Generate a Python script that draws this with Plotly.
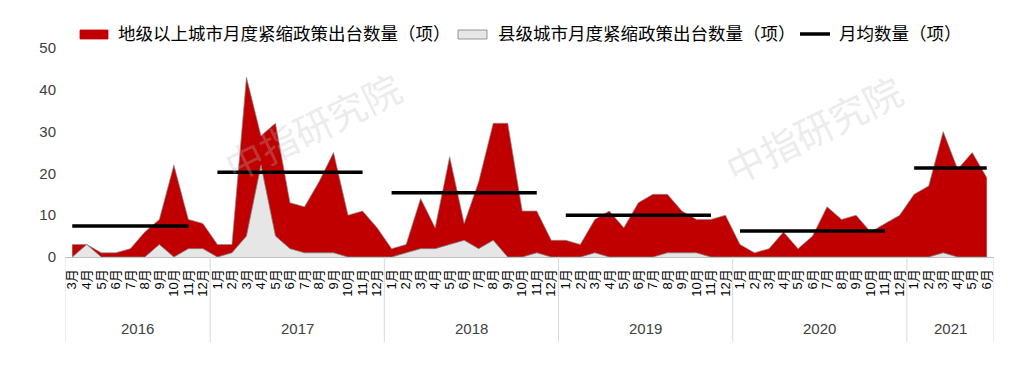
import plotly.graph_objects as go

# ---------------- data ----------------
years = ["2016", "2017", "2018", "2019", "2020", "2021"]
year_first_month = [3, 1, 1, 1, 1, 1]
year_last_month = [12, 12, 12, 12, 12, 6]

# 地级以上城市月度紧缩政策出台数量（项）
prefecture = [3, 3, 1, 1, 2, 6, 9, 22, 9, 8,
              3, 3, 43, 29, 32, 13, 12, 18, 25, 10, 11, 7,
              2, 3, 14, 7, 24, 8, 18, 32, 32, 11, 11, 4,
              4, 3, 9, 11, 7, 13, 15, 15, 11, 9, 9, 10,
              3, 1, 2, 6, 2, 5, 12, 9, 10, 6, 8, 10,
              15, 17, 30, 21, 25, 19]

# 县级城市月度紧缩政策出台数量（项）
county = [0, 3, 0, 0, 0, 0, 3, 0, 2, 2,
          0, 1, 5, 22, 5, 2, 1, 1, 1, 0, 0, 0,
          0, 1, 2, 2, 3, 4, 2, 4, 0, 0, 1, 0,
          0, 0, 1, 0, 0, 0, 0, 1, 1, 1, 0, 0,
          0, 0, 0, 0, 0, 0, 0, 0, 0, 0, 0, 0,
          0, 0, 1, 0, 0, 0]

# 月均数量（项） per year
yearly_avg = [7.4, 20.3, 15.4, 10.0, 6.2, 21.3]

series_names = ["地级以上城市月度紧缩政策出台数量（项）",
                "县级城市月度紧缩政策出台数量（项）",
                "月均数量（项）"]

# ---------------- derived ----------------
month_labels = []
year_of_point = []
month_of_point = []
for yi, (a, b) in enumerate(zip(year_first_month, year_last_month)):
    for m in range(a, b + 1):
        month_labels.append(f"{m}月")
        year_of_point.append(yi)
        month_of_point.append(m)

xs = list(range(len(month_labels)))

# average line: every month of the year except December (gap between years)
avg_series = [None if month_of_point[i] == 12 else yearly_avg[year_of_point[i]] for i in xs]

FONT = "Liberation Sans, Noto Sans CJK SC, sans-serif"
RED = "#c00000"
GREY = "#e7e6e6"

# figure geometry (page body adds 8px margin)
W, H = 1003, 366
ML, MR, MT, MB = 57, 17, 40, 117
PW, PH = W - ML - MR, H - MT - MB


def px_x(wx):  # window pixel -> paper x
    return (wx - 8 - ML) / PW


def px_y(wy):  # window pixel -> paper y
    return (H - MB - (wy - 8)) / PH


fig = go.Figure()
fig.add_trace(go.Scatter(
    x=xs, y=prefecture, mode="lines", fill="tozeroy", name=series_names[0],
    line=dict(color="#8c8c8c", width=0.7), fillcolor=RED, showlegend=False,
))
fig.add_trace(go.Scatter(
    x=xs, y=county, mode="lines", fill="tozeroy", name=series_names[1],
    line=dict(color="#7f7f7f", width=0.8), fillcolor=GREY, showlegend=False,
))
fig.add_trace(go.Scatter(
    x=xs, y=avg_series, mode="lines", name=series_names[2],
    line=dict(color="#000000", width=3.5), connectgaps=False, showlegend=False,
))

shapes = []
annotations = []

# legend drawn as swatches + text (box swatches like the reference)
legend_items = [
    ("box", RED, RED, 80, 108, 117),
    ("box", GREY, "#7f7f7f", 458, 487, 497),
    ("line", "#000000", "#000000", 800, 830, 838),
]
LEG_Y = 34
for (kind, fillc, linec, sx0, sx1, tx), name in zip(legend_items, series_names):
    if kind == "box":
        shapes.append(dict(type="rect", xref="paper", yref="paper",
                           x0=px_x(sx0), x1=px_x(sx1), y0=px_y(LEG_Y + 5), y1=px_y(LEG_Y - 4),
                           fillcolor=fillc, line=dict(color=linec, width=0.8)))
    else:
        shapes.append(dict(type="line", xref="paper", yref="paper",
                           x0=px_x(sx0), x1=px_x(sx1), y0=px_y(LEG_Y), y1=px_y(LEG_Y),
                           line=dict(color=linec, width=3.5)))
    annotations.append(dict(text=name, xref="paper", yref="paper", x=px_x(tx), y=px_y(LEG_Y),
                            xanchor="left", yanchor="middle", showarrow=False, borderpad=0,
                            font=dict(family=FONT, size=17.5, color="#000000")))

# year group separators and labels
bounds = [-0.5]
for yi in range(len(years)):
    n = year_last_month[yi] - year_first_month[yi] + 1
    bounds.append(bounds[-1] + n)
for b in bounds:
    shapes.append(dict(type="line", xref="x", yref="paper", x0=b, x1=b, y0=0, y1=-0.407,
                       line=dict(color="#d9d9d9", width=1)))
for yi, y in enumerate(years):
    annotations.append(dict(text=y, xref="x", yref="paper", x=(bounds[yi] + bounds[yi + 1]) / 2,
                            y=-0.344, showarrow=False, xanchor="center", yanchor="middle",
                            font=dict(family=FONT, size=15, color="#404040")))

# watermarks
for wx, wy in [(312, 125), (813, 128)]:
    annotations.append(dict(text="中指研究院", xref="paper", yref="paper", x=px_x(wx), y=px_y(wy),
                            xanchor="center", yanchor="middle",
                            showarrow=False, textangle=-26,
                            font=dict(family="Noto Sans CJK SC", size=38, color="rgba(190,190,190,0.3)")))

fig.update_layout(
    width=W, height=H,
    margin=dict(l=ML, r=MR, t=MT, b=MB, autoexpand=False),
    paper_bgcolor="white", plot_bgcolor="white",
    font=dict(family=FONT, color="#000000"),
    showlegend=False,
    shapes=shapes,
    annotations=annotations,
)
fig.update_xaxes(
    range=[-0.5, len(xs) - 0.5],
    tickmode="array", tickvals=xs, ticktext=month_labels,
    tickangle=-90, ticks="", showgrid=False, zeroline=False,
    showline=True, linecolor="#bfbfbf", linewidth=1,
    tickfont=dict(family=FONT, size=13, color="#000000"),
    ticklabelstandoff=6,
)
fig.update_yaxes(
    range=[0, 50], tickvals=[0, 10, 20, 30, 40, 50],
    ticks="", showgrid=False, zeroline=False, showline=False,
    tickfont=dict(family=FONT, size=15, color="#404040"),
    ticklabelstandoff=8,
)

fig.write_html("out.html")
